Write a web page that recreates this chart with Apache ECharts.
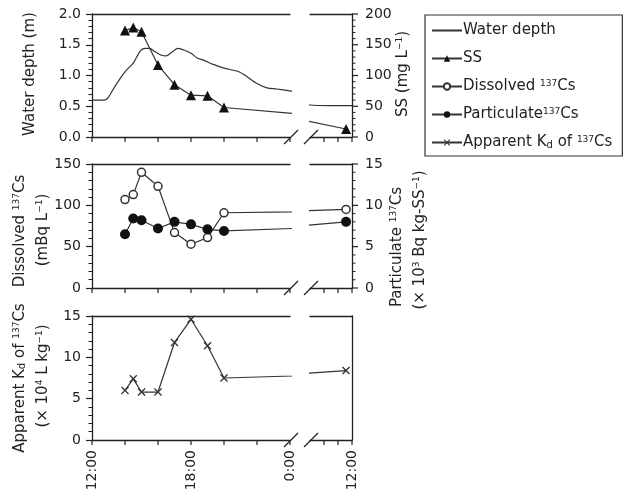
<!DOCTYPE html>
<html>
<head>
<meta charset="utf-8">
<script src="https://cdn.jsdelivr.net/npm/echarts@6/dist/echarts.min.js"></script>
<style>html,body{margin:0;padding:0;background:#fff}#c{width:624px;height:498px}</style>
</head>
<body>
<div id="c"></div>
<script>
// ---- data (hours from 12:00 of day 1; next day 12:00 = 36) ----
const depthHours = [12, 12.75, 13, 13.25, 13.7, 14.1, 14.5, 14.9, 15.2, 15.5, 15.8, 16.2, 16.5, 16.8, 17.2, 17.6, 18, 18.4, 18.75, 19.35, 20, 20.9, 21.4, 22, 22.6, 23.2, 24, 30, 33, 36];
const depthMeters = [0.60, 0.60, 0.65, 0.76, 0.95, 1.09, 1.20, 1.39, 1.44, 1.44, 1.39, 1.33, 1.32, 1.37, 1.44, 1.41, 1.36, 1.28, 1.25, 1.18, 1.12, 1.06, 0.98, 0.87, 0.80, 0.78, 0.75, 0.52, 0.51, 0.51];
const sampleHours = [14, 14.5, 15, 16, 17, 18, 19, 20, 35.15];
const ssValues = [173, 178, 171, 117, 85, 68, 67, 48, 13];
const dissolvedValues = [107, 113, 140, 123, 67, 53, 61, 91, 95];
const particulateValues = [6.5, 8.4, 8.2, 7.2, 8.0, 7.7, 7.1, 6.9, 8.0];
const kdValues = [6.0, 7.4, 5.8, 5.8, 11.8, 14.6, 11.4, 7.5, 8.4];
const xTickLabels = {12: '12:00', 18: '18:00', 24: '0:00', 36: '12:00'};
const xTicksLeft = [12, 14, 16, 18, 20, 22, 24];
const xTicksRight = [32, 34, 36];
const ssTicks = [0, 50, 100, 150, 200];
const ssMinorTicks = [10, 20, 30, 40, 60, 70, 80, 90, 110, 120, 130, 140, 160, 170, 180, 190];
const partTicks = [0, 5, 10, 15];
const partMinorTicks = [1, 2, 3, 4, 6, 7, 8, 9, 11, 12, 13, 14];

const FONT = 'DejaVu Sans';
const INK = '#222';
const pair = (xs, ys) => xs.map((x, i) => [x, ys[i]]);

const panels = [{top: 14, height: 123}, {top: 164, height: 124}, {top: 316, height: 124}];
const segs = [{left: 92, width: 198, min: 12, max: 24}, {left: 310, width: 42, min: 30, max: 36}];

const grid = [], xAxis = [], yAxis = [];
const yDefs = [
  [{min: 0, max: 2, interval: 0.5, fmt: v => v.toFixed(1)}, {min: 0, max: 200, interval: 50, fmt: v => String(v), ticks: ssTicks, minor: ssMinorTicks}],
  [{min: 0, max: 150, interval: 50, fmt: v => String(v)}, {min: 0, max: 15, interval: 5, fmt: v => String(v), ticks: partTicks, minor: partMinorTicks}],
  [{min: 0, max: 15, interval: 5, fmt: v => String(v)}, null]
];
const mkLine = () => ({show: true, onZero: false, lineStyle: {color: INK, width: 1.3}});
panels.forEach((p, pi) => {
  segs.forEach((s, si) => {
    const g = grid.length;
    grid.push({left: s.left, top: p.top, width: s.width, height: p.height});
    xAxis.push({
      type: 'value', gridIndex: g, position: 'bottom', min: s.min, max: s.max, interval: 2,
      axisLine: mkLine(),
      axisTick: {show: false},
      axisLabel: {show: pi === 2, rotate: 90, margin: 10, fontFamily: FONT, fontSize: 14, color: INK,
        showMinLabel: si === 0, formatter: v => xTickLabels[v] || ''},
      splitLine: {show: false}
    });
    xAxis.push({
      type: 'value', gridIndex: g, position: 'top', min: s.min, max: s.max,
      axisLine: mkLine(), axisTick: {show: false}, axisLabel: {show: false}, splitLine: {show: false}
    });
    const L = yDefs[pi][0], R = yDefs[pi][1];
    yAxis.push({
      type: 'value', gridIndex: g, position: 'left', min: L.min, max: L.max, interval: L.interval,
      show: si === 0,
      axisLine: mkLine(),
      axisTick: {show: true, length: 6, lineStyle: {color: INK, width: 1.2}},
      minorTick: {show: true, splitNumber: 5, length: 3.5, lineStyle: {color: INK, width: 1}},
      axisLabel: {margin: 11, fontFamily: FONT, fontSize: 14, color: INK, formatter: L.fmt},
      splitLine: {show: false}, minorSplitLine: {show: false}
    });
    const Rd = R || L;
    yAxis.push({
      type: 'value', gridIndex: g, position: 'right', min: Rd.min, max: Rd.max, interval: Rd.interval,
      show: si === 1,
      axisLine: mkLine(),
      axisTick: {show: false}, minorTick: {show: false},
      axisLabel: {show: !!R, margin: 13, fontFamily: FONT, fontSize: 14, color: INK, formatter: Rd.fmt},
      splitLine: {show: false}, minorSplitLine: {show: false}
    });
  });
});

const lineStyle = {color: '#333', width: 1.2};
const xShape = 'path://M0,1.2L1.2,0L5,3.8L8.8,0L10,1.2L6.2,5L10,8.8L8.8,10L5,6.2L1.2,10L0,8.8L3.8,5Z';
const seriesDefs = [
  {name: 'Water depth', panel: 0, yr: 0, data: pair(depthHours, depthMeters), symbol: 'none', smooth: 0.25},
  {name: 'SS', panel: 0, yr: 1, data: pair(sampleHours, ssValues), symbol: 'triangle', symbolSize: 10,
    itemStyle: {color: '#111', borderWidth: 0}},
  {name: 'Dissolved', panel: 1, yr: 0, data: pair(sampleHours, dissolvedValues), symbol: 'circle', symbolSize: 8,
    itemStyle: {color: '#fff', borderColor: '#333', borderWidth: 1.5}},
  {name: 'Particulate', panel: 1, yr: 1, data: pair(sampleHours, particulateValues), symbol: 'circle', symbolSize: 10,
    itemStyle: {color: '#111', borderWidth: 0}},
  {name: 'Kd', panel: 2, yr: 0, data: pair(sampleHours, kdValues), symbol: xShape, symbolSize: 8,
    itemStyle: {color: '#333', borderWidth: 0}}
];
const series = [];
seriesDefs.forEach(d => {
  [0, 1].forEach(si => {
    const g = d.panel * 2 + si;
    series.push({
      type: 'line', name: d.name, xAxisIndex: g * 2, yAxisIndex: g * 2 + d.yr,
      data: d.data, clip: true, symbol: d.symbol, symbolSize: d.symbolSize || 8,
      showSymbol: d.symbol !== 'none', smooth: d.smooth || false,
      lineStyle: lineStyle, itemStyle: d.itemStyle || {color: '#333'},
      emphasis: {disabled: true}, animation: false
    });
  });
});

const legendText = {
  'Water depth': 'Water depth',
  'SS': 'SS',
  'Dissolved': 'Dissolved {sup|137}Cs',
  'Particulate': 'Particulate{sup|137}Cs',
  'Kd': 'Apparent K{sub|d} of {sup|137}Cs'
};
const rich = {
  sup: {fontFamily: FONT, fontSize: 9, verticalAlign: 'top', lineHeight: 12, color: INK, padding: [0, 0, 5, 0]},
  sub: {fontFamily: FONT, fontSize: 10, verticalAlign: 'bottom', lineHeight: 12, color: INK, padding: [5, 0, 0, 0]}
};

const nameStyle = (text, x, y) => ({
  type: 'text', x: x, y: y, rotation: Math.PI / 2, silent: true,
  style: {text: text, fill: INK, font: '15px "DejaVu Sans"', align: 'center', verticalAlign: 'middle', rich: rich}
});
const graphic = [
  nameStyle('Water depth (m)', 30, 74),
  nameStyle('SS (mg L{sup|−1})', 403, 74),
  nameStyle('Dissolved {sup|137}Cs', 20, 231),
  nameStyle('(mBq L{sup|−1})', 43, 230),
  nameStyle('Particulate {sup|137}Cs', 397, 247),
  nameStyle('(× 10{sup|3} Bq kg-SS{sup|−1})', 420, 240),
  nameStyle('Apparent K{sub|d} of {sup|137}Cs', 20, 378),
  nameStyle('(× 10{sup|4} L kg{sup|−1})', 43, 376)
];
panels.forEach(p => {
  const y = p.top + p.height;
  [291, 311].forEach(cx => {
    graphic.push({type: 'line', silent: true, z: 100, shape: {x1: cx - 7, y1: y + 7, x2: cx + 7, y2: y - 7},
      style: {stroke: INK, lineWidth: 1.2}});
  });
});

// tick marks as small filled rects, placed by the axes' linear mapping of the grid layout
const px = (s, v) => s.left + (v - s.min) / (s.max - s.min) * s.width;
const py = (p, d, v) => p.top + p.height * (1 - (v - d.min) / (d.max - d.min));
const tickRect = (x, y, w, h) => ({type: 'rect', silent: true, z: 100,
  shape: {x: x, y: y, width: w, height: h}, style: {fill: INK}});
panels.forEach((p, pi) => {
  segs.forEach((s, si) => {
    const yb = p.top + p.height;
    (si === 0 ? xTicksLeft : xTicksRight).forEach(v => {
      graphic.push(tickRect(px(s, v) - 0.6, yb, 1.2, 5));
    });
    const R = yDefs[pi][1];
    if (si === 1 && R) {
      const xr = s.left + s.width;
      R.ticks.forEach(v => graphic.push(tickRect(xr, py(p, R, v) - 0.6, 6, 1.2)));
      R.minor.forEach(v => graphic.push(tickRect(xr, py(p, R, v) - 0.5, 3.5, 1)));
    }
  });
});

const chart = echarts.init(document.getElementById('c'), null, {renderer: 'canvas'});
chart.setOption({
  animation: false,
  backgroundColor: '#fff',
  grid: grid, xAxis: xAxis, yAxis: yAxis, series: series, graphic: graphic,
  legend: {
    orient: 'vertical', left: 425, top: 15,
    data: [
      {name: 'Water depth', itemStyle: {opacity: 0}},
      {name: 'SS'}, {name: 'Dissolved'}, {name: 'Particulate'}, {name: 'Kd'}
    ],
    itemWidth: 30, itemHeight: 8, itemGap: 13,
    padding: [8, 10, 6, 6],
    borderColor: '#333', borderWidth: 1.2, backgroundColor: '#fff',
    selectedMode: false,
    formatter: n => legendText[n],
    textStyle: {fontFamily: FONT, fontSize: 15, color: INK, rich: rich, padding: [0, 0, 0, -4]}
  }
});
</script>
</body>
</html>
